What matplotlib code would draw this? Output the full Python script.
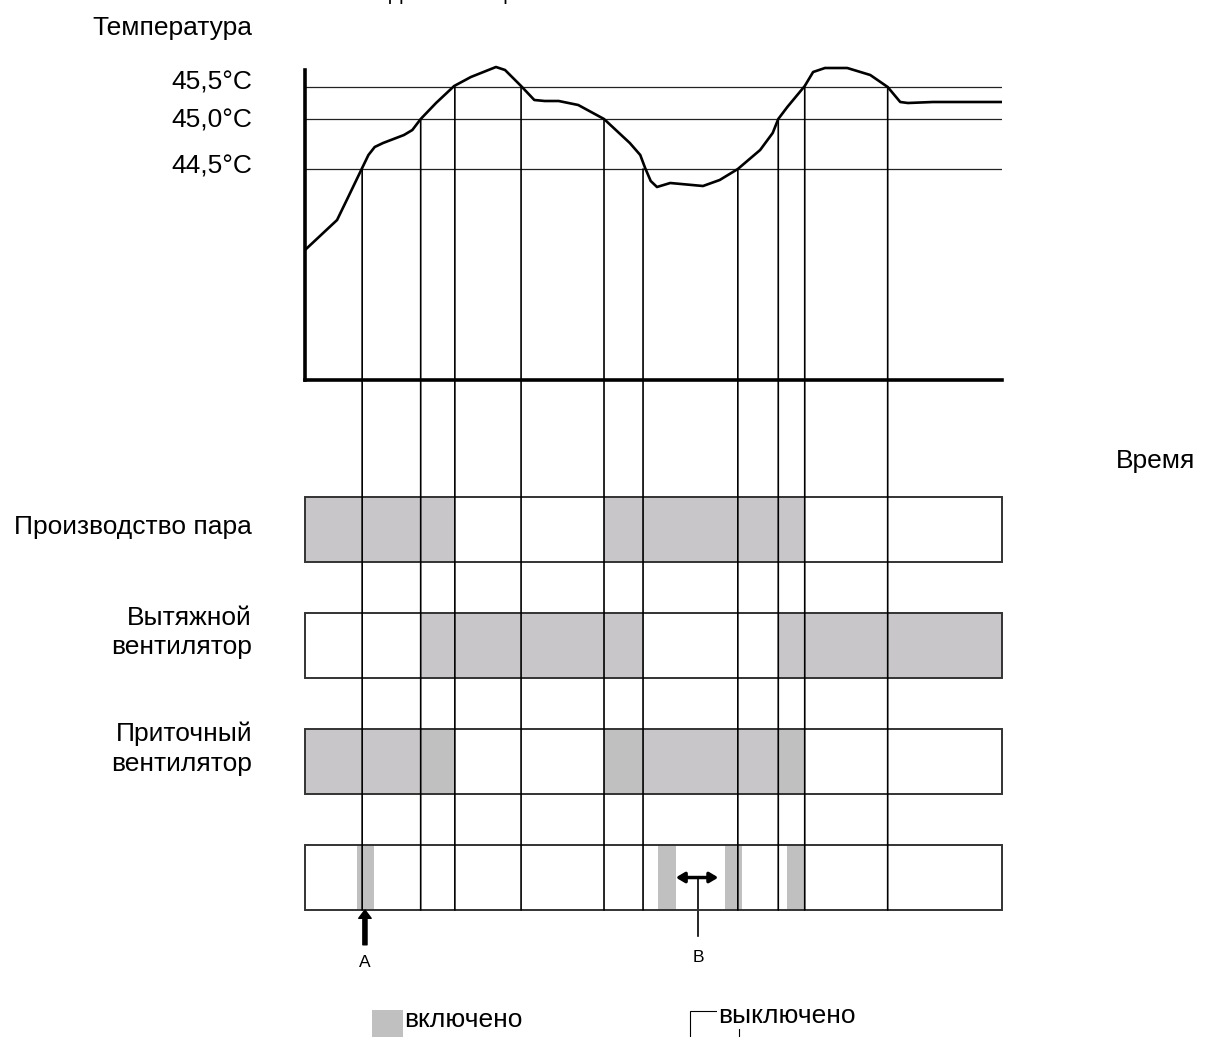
"""
Thermostat action diagram: temperature curve and on/off states of the equipment
"""
import matplotlib
matplotlib.use('Agg')
import matplotlib.pyplot as plt
from matplotlib.patches import Rectangle, ConnectionPatch

plt.rcParams['font.family'] = ['Liberation Sans', 'DejaVu Sans']

W, H = 1208, 1037

# Temperature curve (time in arbitrary units, temperature in sketch units)
time_pts = [0.0, 4.6, 6.2, 8.2, 9.1, 10.0, 11.2, 14.2, 15.4, 16.6, 18.8, 21.4, 23.8, 27.4,
            28.7, 31.0, 32.9, 34.4, 36.4, 39.2, 42.9, 46.6, 48.1, 48.8, 49.6, 50.5,
            52.4, 57.1, 59.5, 62.1, 65.3, 67.1, 67.9, 69.2, 71.7, 72.9, 74.6, 77.8,
            81.1, 83.6, 85.4, 86.5, 90.1, 100.0]
temp_pts = [43.69, 43.99, 44.22, 44.51, 44.64, 44.72, 44.76, 44.84, 44.89, 45.00, 45.16,
            45.33, 45.42, 45.52, 45.49, 45.33, 45.19, 45.18, 45.18, 45.14, 45.00, 44.76,
            44.64, 44.51, 44.38, 44.32, 44.36, 44.33, 44.39, 44.50, 44.69, 44.86, 45.00,
            45.12, 45.33, 45.47, 45.51, 45.51, 45.44, 45.32, 45.17, 45.16, 45.17, 45.17]

# Threshold lines and their labels
levels = [45.32, 45.0, 44.5]
level_labels = ['45,5°C', '45,0°C', '44,5°C']

# Switching moments and the level crossed there
switch_times = [8.2, 16.6, 21.5, 31.0, 42.9, 48.5, 62.1, 67.9, 71.7, 83.6]
switch_levels = [44.5, 45.0, 45.32, 45.32, 45.0, 44.5, 44.5, 45.0, 45.32, 45.32]

# On-intervals for each row
row_names = ['Производство пара', 'Вытяжной\nвентилятор', 'Приточный\nвентилятор', '']
on_main = [
    [(0, 21.5), (42.9, 71.7)],
    [(16.6, 48.5), (67.9, 100)],
    [(0, 16.6), (48.5, 67.9)],
    [],
]
on_light = [
    [],
    [],
    [(16.6, 21.5), (42.9, 48.5), (67.9, 71.7)],
    [(7.5, 9.9), (50.6, 53.2), (60.3, 62.7), (69.1, 71.7)],
]

main_gray = '#c9c6c9'
light_gray = '#c0c0c0'
FS = 19


def fx(px):
    return px / W


def fy(py):
    return 1 - py / H


fig = plt.figure(figsize=(W / 100, H / 100), dpi=100)

# ---- temperature plot
ax_t = fig.add_axes([fx(305), fy(380), 697 / W, 320 / H])
ax_t.set_xlim(0, 100)
ax_t.set_ylim(42.39, 45.59)
ax_t.hlines(levels, 0, 100, color='#222222', lw=0.9)
ax_t.plot(time_pts, temp_pts, color='black', lw=1.9, solid_joinstyle='round')
for s in ['top', 'right']:
    ax_t.spines[s].set_visible(False)
ax_t.spines['left'].set_linewidth(2.6)
ax_t.spines['bottom'].set_linewidth(2.6)
ax_t.spines['left'].set_bounds(42.39, 45.49)
ax_t.set_xticks([])
ax_t.set_yticks([45.39, 45.01, 44.55], level_labels)
ax_t.tick_params(axis='y', length=0, pad=38, labelsize=FS)

fig.text(fx(252), fy(28), 'Температура', ha='right', va='center', fontsize=FS)
fig.text(fx(1116), fy(461), 'Время', ha='left', va='center', fontsize=FS)
# title, cut off by the top edge of the picture
fig.text(fx(389), 1 + 0.5 / H, 'Действие термостата', ha='left', va='baseline', fontsize=14.5)

# ---- state rows
ax_b = fig.add_axes([fx(305), fy(910), 697 / W, 413 / H])
ax_b.set_xlim(0, 100)
ax_b.set_ylim(3.56, 0)
ax_b.axis('off')
row_h = 0.56

for i, name in enumerate(row_names):
    for a, b in on_main[i]:
        ax_b.add_patch(Rectangle((a, i), b - a, row_h, fc=main_gray, ec='none', clip_on=False))
    for a, b in on_light[i]:
        ax_b.add_patch(Rectangle((a, i), b - a, row_h, fc=light_gray, ec='none', clip_on=False))
    ax_b.add_patch(Rectangle((0, i), 100, row_h, fill=False, ec='#333333', lw=1.4,
                             clip_on=False, zorder=3))
    if name:
        ax_b.text(-53 / 6.97, i + row_h / 2 - (0.11 if '\n' in name else 0.02), name,
                  ha='right', va='center', multialignment='right', fontsize=FS,
                  linespacing=1.27)

# vertical switching lines from the curve down through all rows
for t, lv in zip(switch_times, switch_levels):
    con = ConnectionPatch(xyA=(t, lv), coordsA=ax_t.transData,
                          xyB=(t, 3 + row_h), coordsB=ax_b.transData,
                          color='black', lw=1.2, zorder=4)
    fig.add_artist(con)

# arrow A
ax_b.annotate('', xy=(8.6, 3 + row_h), xytext=(8.6, 3 + row_h + 0.3),
              arrowprops=dict(arrowstyle='simple,head_width=0.9,head_length=0.6,tail_width=0.3',
                              fc='black', ec='black', shrinkA=0, shrinkB=0),
              annotation_clip=False)
ax_b.text(8.6, 3 + row_h + 0.45, 'A', ha='center', va='center', fontsize=12.5)

# arrow B
ax_b.annotate('', xy=(53.2, 3.28), xytext=(59.3, 3.28),
              arrowprops=dict(arrowstyle='<|-|>,head_width=0.3,head_length=0.5',
                              fc='black', ec='black', lw=2.5, shrinkA=0, shrinkB=0),
              annotation_clip=False, zorder=5)
ax_b.plot([56.4, 56.4], [3.28, 3 + row_h + 0.22], color='black', lw=1.2, clip_on=False)
ax_b.text(56.5, 3 + row_h + 0.41, 'B', ha='center', va='center', fontsize=12.5)

# legend at the bottom
fig.add_artist(Rectangle((fx(372), fy(1040)), 31 / W, 30 / H, transform=fig.transFigure,
                         fc=light_gray, ec='none'))
fig.text(fx(404), fy(1020), 'включено', ha='left', va='center', fontsize=FS)
fig.add_artist(Rectangle((fx(690), fy(1045)), 49 / W, 34 / H, transform=fig.transFigure,
                         fc='white', ec='black', lw=0.8))
fig.text(fx(718), fy(1016), 'выключено', ha='left', va='center', fontsize=FS,
         bbox=dict(fc='white', ec='none', pad=1))

fig.savefig('out.png', dpi=100)
